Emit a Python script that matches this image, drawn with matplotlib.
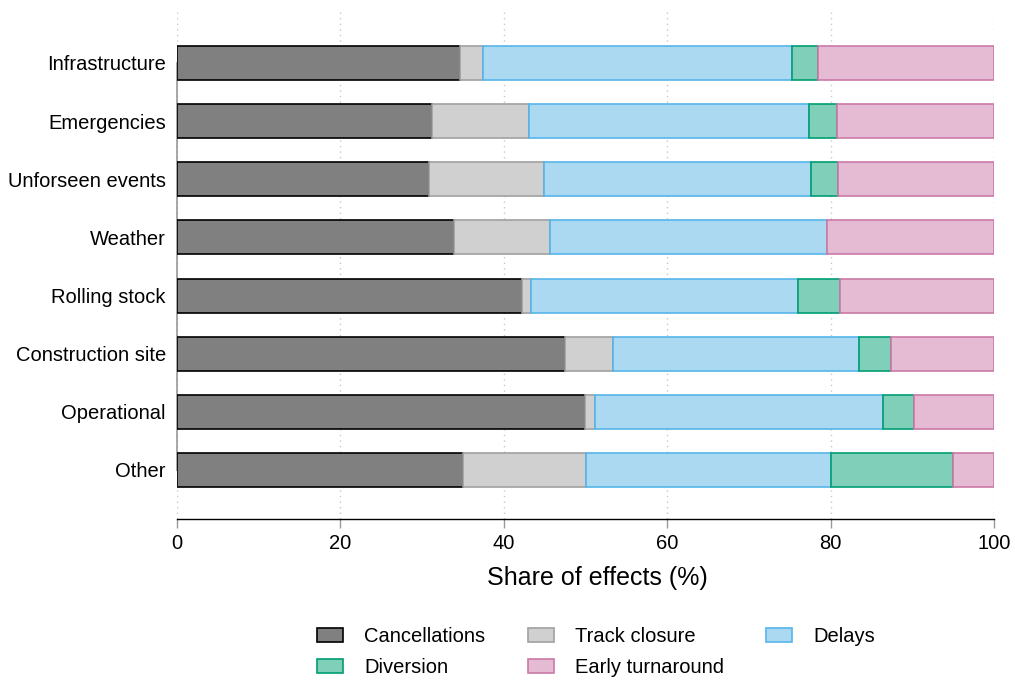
import numpy as np
import matplotlib
matplotlib.use("Agg")
import matplotlib.pyplot as plt

plt.rcParams["font.family"] = ["Liberation Sans", "DejaVu Sans"]

# Reasons for disruptions (top to bottom)
categories = ["Infrastructure", "Emergencies", "Unforseen events", "Weather",
              "Rolling stock", "Construction site", "Operational", "Other"]

# Share of each effect per reason (%)
cancellations = [34.7, 31.2, 30.9, 33.9, 42.2, 47.5, 49.9, 35.0]
track_closure = [2.7, 11.9, 14.0, 11.8, 1.1, 5.9, 1.3, 15.0]
delays = [37.9, 34.2, 32.7, 33.9, 32.7, 30.1, 35.2, 30.0]
diversion = [3.2, 3.5, 3.3, 0.0, 5.2, 3.9, 3.8, 15.0]
early_turnaround = [21.5, 19.2, 19.1, 20.4, 18.8, 12.6, 9.8, 5.0]

xticks = [0, 20, 40, 60, 80, 100]

series = [
    ("Cancellations", cancellations, "#808080", "#000000"),
    ("Track closure", track_closure, "#d0d0d0", "#a0a0a0"),
    ("Delays", delays, "#acd9f2", "#56b4e9"),
    ("Diversion", diversion, "#80cfb8", "#009e73"),
    ("Early turnaround", early_turnaround, "#e5bad3", "#cc79a7"),
]

fig = plt.figure(figsize=(10.15, 6.8), dpi=100)
ax = fig.add_axes([177 / 1015, 1 - 519 / 680, 817 / 1015, 507 / 680])

y = np.arange(len(categories))
left = np.zeros(len(categories))
handles = {}
for name, vals, fc, ec in series:
    vals = np.asarray(vals, dtype=float)
    lws = np.where(vals > 0, 1.2, 0.0)
    bars = ax.barh(y, vals, left=left, height=0.585, color=fc, edgecolor=ec,
                   linewidth=lws, label=name, zorder=3)
    handles[name] = bars
    left += vals

ax.set_xlim(0, 100)
ax.set_ylim(7.843, -0.877)
ax.set_yticks(y)
ax.set_yticklabels(categories, fontsize=14.5)
ax.set_xticks(xticks)
ax.set_xticklabels([str(t) for t in xticks], fontsize=14.5)

ax.tick_params(axis="y", length=0, pad=8)
ax.tick_params(axis="x", length=6.7, width=1.0, color="#999999", pad=4)

ax.grid(axis="x", linestyle=(0, (1, 3)), color="#c8c8c8", linewidth=1.0, zorder=0)
ax.grid(axis="y", visible=False)

for s in ("top", "right"):
    ax.spines[s].set_visible(False)
ax.spines["bottom"].set_color("black")
ax.spines["bottom"].set_linewidth(1.0)
ax.spines["left"].set_color("#a0a0a0")
ax.spines["left"].set_linewidth(1.3)
ax.spines["left"].set_bounds(0, 7)
ax.spines["left"].set_zorder(2)

ax.set_xlabel("Share of effects (%)", fontsize=18)
ax.xaxis.set_label_coords((597.5 - 177) / 817, (519 - 578) / 507)
ax.xaxis.label.set_verticalalignment("center")

order = ["Cancellations", "Diversion", "Track closure", "Early turnaround", "Delays"]
fig.legend([handles[n] for n in order], order, loc="center",
           bbox_to_anchor=(596 / 1015, 1 - 652 / 680), ncol=3, frameon=False,
           fontsize=14.5, handlelength=1.3, handleheight=0.7, handletextpad=1.05,
           columnspacing=2.1, labelspacing=0.6)

fig.savefig("out.png", dpi=100)
